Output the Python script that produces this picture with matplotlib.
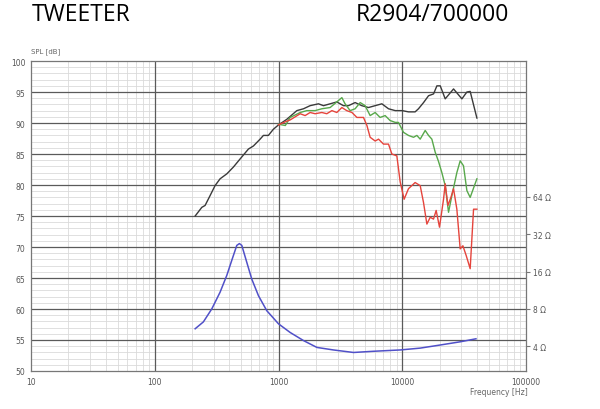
import numpy as np
import matplotlib
matplotlib.use('Agg')
import matplotlib.pyplot as plt
from matplotlib.ticker import FixedLocator, NullFormatter, LogLocator

# on-axis SPL (black)
black_f = [212, 240, 255, 280, 307, 337, 382, 432, 489, 571, 627, 710, 755, 828, 909, 1000,
           1167, 1406, 1592, 1800, 2103, 2308, 2613, 2958, 3348, 3675, 4160, 4710, 5330, 6040,
           6840, 7740, 8770, 10000, 11220, 12700, 13520, 14860, 16300, 17900, 19050, 20270,
           22230, 25960, 30330, 33270, 35380, 40090]
black_db = [75.0, 76.4, 76.7, 78.3, 79.9, 81.0, 81.8, 82.9, 84.2, 85.8, 86.3, 87.4, 88.0, 88.0,
            89.0, 89.7, 90.6, 92.0, 92.3, 92.8, 93.1, 92.8, 93.1, 93.4, 92.8, 92.8, 93.3, 92.8,
            92.5, 92.8, 93.1, 92.3, 92.0, 92.0, 91.8, 91.8, 92.3, 93.3, 94.4, 94.7, 96.0, 96.0,
            93.9, 95.5, 93.9, 95.0, 95.1, 90.8]

# 30 deg (green)
green_f = [1000, 1135, 1242, 1497, 1694, 1976, 2238, 2613, 2958, 3250, 3450, 3790, 4160, 4570,
           5010, 5500, 6040, 6620, 7270, 7980, 8770, 9310, 10230, 11220, 12330, 13120, 13960,
           15320, 16300, 17340, 18450, 19630, 20890, 22230, 23650, 25170, 27610, 29380, 31250,
           33270, 35380, 40090]
green_db = [89.8, 89.6, 90.9, 91.7, 92.0, 92.0, 92.3, 92.5, 93.4, 94.1, 93.1, 92.0, 92.3, 93.3,
            92.8, 91.2, 91.7, 90.9, 91.2, 90.4, 90.1, 90.1, 88.5, 88.0, 87.7, 88.0, 87.4, 88.8,
            88.0, 87.4, 85.3, 83.8, 82.0, 79.9, 75.6, 78.3, 82.0, 83.9, 83.1, 79.1, 78.0, 81.0]

# 60 deg (red)
red_f = [1000, 1135, 1242, 1497, 1640, 1800, 1976, 2238, 2455, 2700, 2958, 3250, 3560, 3920,
         4300, 4860, 5180, 5500, 6040, 6430, 7050, 7740, 8240, 9040, 9620, 10350, 11220, 12700,
         13960, 14840, 15810, 16820, 17880, 18790, 19990, 21550, 22230, 23380, 24720, 25960,
         27610, 29380, 30900, 32880, 35380, 37670, 40090]
red_db = [89.7, 90.2, 90.5, 91.5, 91.2, 91.7, 91.5, 91.7, 91.5, 92.0, 91.7, 92.5, 92.0, 91.7,
          90.9, 90.9, 89.6, 87.7, 87.1, 87.4, 86.6, 86.6, 85.0, 84.7, 80.5, 77.7, 79.4, 80.4,
          79.9, 77.2, 73.7, 74.8, 74.5, 75.9, 73.2, 77.7, 80.2, 76.7, 78.0, 79.4, 76.1, 69.7,
          70.2, 68.6, 66.5, 76.1, 76.1]

# impedance (blue), ohms
imp_f = [212, 247, 289, 337, 382, 419, 460, 483, 505, 554, 608, 689, 804, 1000, 1242, 1592,
         2042, 2780, 4036, 5850, 9620, 13960, 20270, 29380, 39400]
imp_ohm = [5.53, 6.28, 8.0, 10.9, 14.9, 19.7, 26.0, 26.9, 26.0, 19.0, 13.9, 10.2, 7.73, 6.06,
           5.16, 4.44, 3.91, 3.73, 3.56, 3.64, 3.73, 3.86, 4.09, 4.34, 4.59]

ohm_ticks = [4, 8, 16, 32, 64]
freq_ticks = [10, 100, 1000, 10000, 100000]
db_ticks = list(range(50, 101, 5))


def ohm2db(z):
    return 54 + 20 * np.log10(np.asarray(z, dtype=float) / 4)


def db2ohm(y):
    return 4 * 10 ** ((np.asarray(y, dtype=float) - 54) / 20)


fig = plt.figure(figsize=(6, 4.1), dpi=100)
ax = fig.add_axes([0.0517, 0.0927, 0.825, 0.756])

ax.set_xscale('log')
ax.set_xlim(10, 100000)
ax.set_ylim(50, 100)

ax.set_xticks(freq_ticks)
ax.set_xticklabels([str(f) for f in freq_ticks])
ax.xaxis.set_minor_locator(LogLocator(base=10, subs=np.arange(2, 10)))
ax.xaxis.set_minor_formatter(NullFormatter())
ax.set_yticks(db_ticks)
ax.yaxis.set_minor_locator(FixedLocator(np.arange(50, 101, 1)))

# light minor grid, then dark major lines on top of it
ax.grid(True, which='minor', color='#dadada', lw=0.6, zorder=0)
ax.vlines(freq_ticks[1:-1], 50, 100, color='#5a5a5a', lw=0.9, zorder=2)
ax.hlines(db_ticks[1:-1], 10, 100000, color='#5a5a5a', lw=0.9, zorder=2)
ax.tick_params(which='both', length=0, labelsize=5.5, labelcolor='#555555', pad=4)
for s in ax.spines.values():
    s.set_color('#777777')
    s.set_linewidth(0.9)

ax.plot(black_f, black_db, color='#3a3a3a', lw=1.0, zorder=3)
ax.plot(green_f, green_db, color='#58a84b', lw=1.0, zorder=3)
ax.plot(red_f, red_db, color='#e5443c', lw=1.0, zorder=3)
ax.plot(imp_f, ohm2db(imp_ohm), color='#5050c8', lw=1.1, zorder=3)

sec = ax.secondary_yaxis('right', functions=(db2ohm, ohm2db))
sec.set_yticks(ohm_ticks)
sec.set_yticklabels([f'{z} \u03a9' for z in ohm_ticks])
sec.tick_params(length=3, color='#777777', labelsize=5.5, labelcolor='#555555', pad=2)
sec.spines['right'].set_visible(False)

fig.text(0.053, 0.963, 'TWEETER', fontsize=16.5, family='Open Sans', va='center', ha='left')
fig.text(0.849, 0.963, 'R2904/700000', fontsize=16.5, family='Open Sans', va='center', ha='right')
fig.text(0.052, 0.873, 'SPL [dB]', fontsize=5, color='#666666', va='center', ha='left')
fig.text(0.88, 0.043, 'Frequency [Hz]', fontsize=5.5, color='#666666', va='center', ha='right')

fig.savefig('out.png', dpi=100)
